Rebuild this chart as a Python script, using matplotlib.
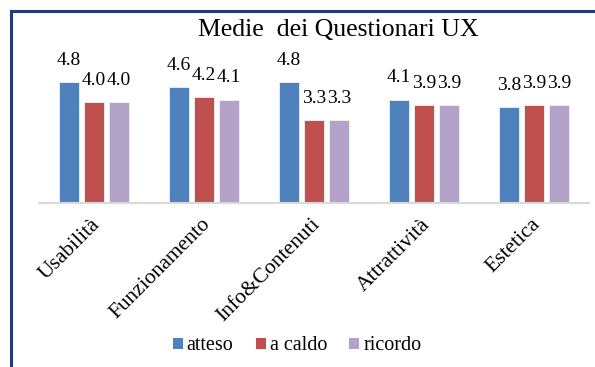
import matplotlib
matplotlib.use("Agg")
import matplotlib.pyplot as plt
from matplotlib.lines import Line2D
from matplotlib.patches import Patch
import numpy as np

categories = ["Usabilità", "Funzionamento", "Info&Contenuti", "Attrattività", "Estetica"]
series_names = ["atteso", "a caldo", "ricordo"]
atteso = [4.8, 4.6, 4.8, 4.1, 3.8]
a_caldo = [4.0, 4.2, 3.3, 3.9, 3.9]
ricordo = [4.0, 4.1, 3.3, 3.9, 3.9]
colors = ["#4F81BD", "#C0504D", "#B3A2C7"]

plt.rcParams["font.family"] = ["Liberation Serif", "DejaVu Serif"]

W, H = 595, 367
fig = plt.figure(figsize=(W / 100, H / 100), dpi=100)
ax = fig.add_axes([39 / W, 1 - 203 / H, 550 / W, 151.2 / H])

x = np.arange(len(categories))
width = 0.18
step = 0.227
for k, (vals, c) in enumerate(zip([atteso, a_caldo, ricordo], colors)):
    xs = x + (k - 1) * step
    ax.bar(xs, vals, width=width, color=c, edgecolor="#F2F2F2",
           linewidth=0.6, zorder=2)
    for xi, v in zip(xs, vals):
        ax.annotate(f"{v:.1f}", (xi, v), xytext=(0, 9.5), textcoords="offset points",
                    ha="center", va="bottom", fontsize=14, color="#000000")

ax.set_xlim(-0.5, len(categories) - 0.5)
ax.set_ylim(0, 6)
for s in ["top", "right", "left"]:
    ax.spines[s].set_visible(False)
ax.spines["bottom"].set_color("#D9D9D9")
ax.spines["bottom"].set_linewidth(1.5)
ax.set_yticks([])
ax.set_xticks([])

# category names, rotated under each group
for i, name in enumerate(categories):
    ax.text(i - 0.03, -0.079, name, transform=ax.get_xaxis_transform(),
            rotation=45, rotation_mode="anchor", ha="right", va="top", fontsize=15.5)

fig.text(338 / W, 1 - 30 / H, "Medie  dei Questionari UX", ha="center", va="center",
         fontsize=18.5)

handles = [Patch(facecolor=c, edgecolor="none") for c in colors]
fig.legend(handles, series_names, loc="center", bbox_to_anchor=(297 / W, 1 - 346 / H),
           ncol=3, frameon=False, fontsize=14.5, handlelength=0.5, handleheight=0.5,
           handletextpad=0.2, columnspacing=1.1)

# outer frame of the chart area
fx = 10.5 / W
fy = 1 - 10.5 / H
fig.add_artist(Line2D([fx, fx, 1.0], [0.0, fy, fy], transform=fig.transFigure,
                      color="#1F3B7A", linewidth=2.2, solid_joinstyle="miter"))

fig.savefig("out.png", dpi=100, facecolor="white")
